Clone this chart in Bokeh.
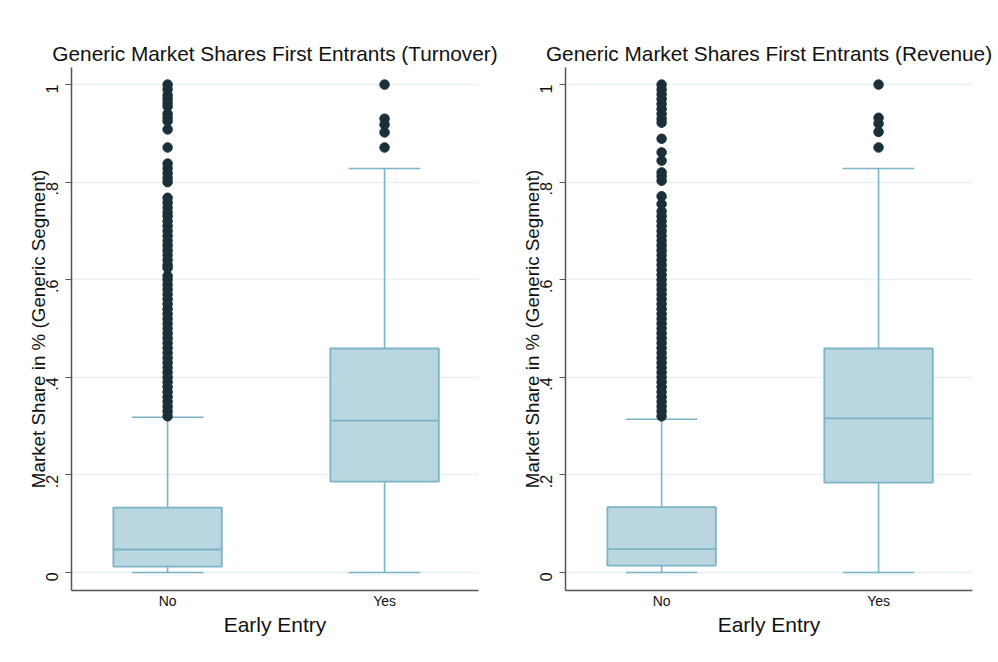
import math
from bokeh.plotting import figure
from bokeh.layouts import row
from bokeh.models import Range1d, FixedTicker, CustomJSTickFormatter
from bokeh.embed import file_html
from bokeh.resources import INLINE

categories = ["No", "Yes"]

# Turnover panel
turn_lo = [0.0, 0.0]
turn_q1 = [0.012, 0.186]
turn_med = [0.047, 0.311]
turn_q3 = [0.133, 0.459]
turn_hi = [0.318, 0.828]
turn_out_no = [0.32, 0.33, 0.34, 0.35, 0.36, 0.37, 0.38, 0.39, 0.40, 0.41,
               0.42, 0.43, 0.44, 0.45, 0.46, 0.47, 0.48, 0.49, 0.50, 0.51,
               0.52, 0.53, 0.54, 0.55, 0.56, 0.57, 0.58, 0.59, 0.60, 0.608,
               0.624, 0.63, 0.64, 0.65, 0.66, 0.67, 0.68, 0.69, 0.70, 0.71,
               0.72, 0.73, 0.738, 0.748, 0.758, 0.768, 0.800, 0.808, 0.818,
               0.828, 0.838, 0.871, 0.908, 0.925, 0.932, 0.940, 0.955, 0.962,
               0.970, 0.978, 0.990, 1.0]
turn_out_yes = [0.871, 0.902, 0.918, 0.930, 1.0]

# Revenue panel
rev_lo = [0.0, 0.0]
rev_q1 = [0.014, 0.184]
rev_med = [0.048, 0.316]
rev_q3 = [0.134, 0.459]
rev_hi = [0.314, 0.828]
rev_out_no = [0.32, 0.33, 0.34, 0.35, 0.36, 0.37, 0.38, 0.39, 0.40, 0.41,
              0.42, 0.43, 0.44, 0.45, 0.46, 0.47, 0.48, 0.49, 0.50, 0.51,
              0.52, 0.53, 0.54, 0.55, 0.56, 0.57, 0.58, 0.59, 0.60, 0.61,
              0.62, 0.63, 0.64, 0.65, 0.66, 0.67, 0.68, 0.69, 0.70, 0.71,
              0.72, 0.73, 0.74, 0.755, 0.771, 0.803, 0.812, 0.820, 0.844,
              0.861, 0.889, 0.922, 0.930, 0.940, 0.950, 0.960, 0.970, 0.980,
              0.990, 1.0]
rev_out_yes = [0.871, 0.903, 0.920, 0.932, 1.0]

y_ticks = [0, 0.2, 0.4, 0.6, 0.8, 1.0]

FONT = "Liberation Sans"
BOX_FILL = "#b9d6e1"
BOX_LINE = "#7bb3c7"
DOT = "#1b2f39"
GRID = "#e8f0f3"
AXIS = "#555555"


def make_panel(title, lo, q1, med, q3, hi, out_no, out_yes, border_left, border_right):
    xs = [i + 0.5 for i in range(len(categories))]
    p = figure(width=499, height=662, output_backend="svg", toolbar_location=None,
               x_range=Range1d(0.057, 1.933), y_range=Range1d(-0.037, 1.035),
               min_border_left=border_left, min_border_right=border_right,
               min_border_top=67, min_border_bottom=72, title=title)
    p.outline_line_color = None
    p.background_fill_color = "white"
    p.border_fill_color = "white"
    p.title.align = "center"
    p.title.text_font = FONT
    p.title.text_font_size = "20.8px"
    p.title.text_font_style = "normal"
    p.title.text_color = "#111111"
    p.title.standoff = 6

    p.xgrid.grid_line_color = None
    p.ygrid.grid_line_color = GRID
    p.ygrid.grid_line_width = 1.5

    # whiskers
    p.segment(x0=xs, y0=q3, x1=xs, y1=hi, line_color=BOX_LINE, line_width=1.6)
    p.segment(x0=xs, y0=lo, x1=xs, y1=q1, line_color=BOX_LINE, line_width=1.6)
    cap = 0.165
    p.segment(x0=[x - cap for x in xs], y0=hi, x1=[x + cap for x in xs], y1=hi,
              line_color=BOX_LINE, line_width=1.6)
    p.segment(x0=[x - cap for x in xs], y0=lo, x1=[x + cap for x in xs], y1=lo,
              line_color=BOX_LINE, line_width=1.6)
    # boxes
    p.vbar(x=xs, width=0.5, bottom=q1, top=q3, fill_color=BOX_FILL,
           line_color=BOX_LINE, line_width=1.8)
    p.segment(x0=[x - 0.25 for x in xs], y0=med, x1=[x + 0.25 for x in xs], y1=med,
              line_color=BOX_LINE, line_width=1.8)
    # outliers
    p.scatter(x=[xs[0]] * len(out_no), y=out_no, size=9.5, fill_color=DOT,
              line_color=DOT)
    p.scatter(x=[xs[1]] * len(out_yes), y=out_yes, size=9.5, fill_color=DOT,
              line_color=DOT)

    # x axis
    xa = p.xaxis[0]
    xa.ticker = FixedTicker(ticks=xs)
    xa.formatter = CustomJSTickFormatter(args=dict(labels=categories),
                                         code="return labels[Math.floor(tick)];")
    xa.axis_label = "Early Entry"
    xa.axis_label_text_font = FONT
    xa.axis_label_text_font_size = "21px"
    xa.axis_label_text_font_style = "normal"
    xa.axis_label_text_color = "#111111"
    xa.axis_label_standoff = 1
    xa.major_label_text_font = FONT
    xa.major_label_text_font_size = "14px"
    xa.major_label_text_color = "#111111"
    xa.major_label_standoff = 2
    xa.major_tick_out = 0
    xa.major_tick_in = 0
    xa.minor_tick_out = 0
    xa.minor_tick_in = 0
    xa.axis_line_color = AXIS
    xa.axis_line_width = 1.5

    # y axis
    ya = p.yaxis[0]
    ya.ticker = FixedTicker(ticks=y_ticks)
    ya.formatter = CustomJSTickFormatter(
        code="if (tick == 0) return '0'; if (tick == 1) return '1'; "
             "return tick.toFixed(1).replace(/^0/, '');")
    ya.major_label_orientation = math.pi / 2
    ya.axis_label = "Market Share in % (Generic Segment)"
    ya.axis_label_text_font = FONT
    ya.axis_label_text_font_size = "18.8px"
    ya.axis_label_text_font_style = "normal"
    ya.axis_label_text_color = "#111111"
    ya.axis_label_standoff = -11
    ya.major_label_text_font = FONT
    ya.major_label_text_font_size = "16px"
    ya.major_label_text_color = "#111111"
    ya.major_label_standoff = 13
    ya.major_tick_out = 6
    ya.major_tick_in = 0
    ya.minor_tick_out = 0
    ya.minor_tick_in = 0
    ya.major_tick_line_color = AXIS
    ya.axis_line_color = AXIS
    ya.axis_line_width = 1.5
    return p


p1 = make_panel("Generic Market Shares First Entrants (Turnover)",
                turn_lo, turn_q1, turn_med, turn_q3, turn_hi,
                turn_out_no, turn_out_yes, 71, 21)
p2 = make_panel("Generic Market Shares First Entrants (Revenue)",
                rev_lo, rev_q1, rev_med, rev_q3, rev_hi,
                rev_out_no, rev_out_yes, 66, 26)

layout = row(p1, p2)
open("out.html", "w").write(file_html(layout, INLINE))
